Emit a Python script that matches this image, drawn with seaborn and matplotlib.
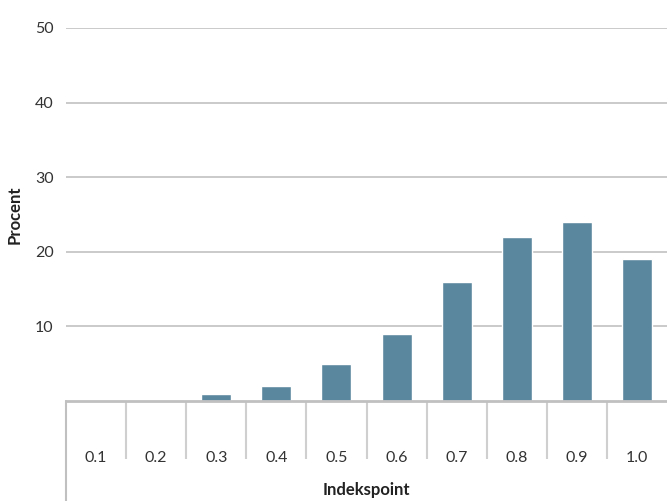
import matplotlib
matplotlib.use("Agg")
import matplotlib.pyplot as plt
import seaborn as sns
import pandas as pd
from matplotlib.lines import Line2D

categories = ["0.1", "0.2", "0.3", "0.4", "0.5", "0.6", "0.7", "0.8", "0.9", "1.0"]
values = [0.1, 0.1, 1, 2, 5, 9, 16, 22, 24, 19]
yticks = [10, 20, 30, 40, 50]

sns.set_theme(style="white")
plt.rcParams["font.family"] = ["Lato", "DejaVu Sans"]

df = pd.DataFrame({"Indekspoint": categories, "Procent": values})

fig = plt.figure(figsize=(6.67, 5.01), dpi=100)
W, H = 667, 501
ax = fig.add_axes([66 / W, (H - 401) / H, 601 / W, 373 / H])

sns.barplot(data=df, x="Indekspoint", y="Procent", color="#5b879e",
            saturation=1, width=0.5, ax=ax)

ax.set_ylim(0, 50)
ax.set_xlim(-0.5, len(categories) - 0.5)
ax.set_yticks(yticks)
ax.yaxis.grid(True, color="#c6c6c6", linewidth=1.3)
ax.set_axisbelow(True)
for s in ["top", "right", "left"]:
    ax.spines[s].set_visible(False)
ax.spines["bottom"].set_color("#c0c0c0")
ax.spines["bottom"].set_linewidth(2)

ax.tick_params(axis="y", length=0, pad=9, labelsize=11.5, labelcolor="#333333")
ax.tick_params(axis="x", which="major", bottom=False, length=0, pad=36,
               labelsize=11.5, labelcolor="#333333")
ax.set_xticks([i + 0.5 for i in range(len(categories) - 1)], minor=True)
ax.tick_params(axis="x", which="minor", bottom=True, length=42, width=1.5,
               color="#cfcfcf", direction="out")

ax.set_xlabel("Indekspoint", fontsize=12, fontweight="bold", color="#222222")
ax.set_ylabel("Procent", fontsize=12, fontweight="bold", color="#222222")
ax.xaxis.set_label_coords(0.5, -0.218)
ax.yaxis.set_label_coords(-0.072, 0.5)

ax.add_line(Line2D([0, 0], [0, -100 / 373], transform=ax.transAxes,
                   color="#c0c0c0", linewidth=1.5, clip_on=False))

fig.savefig("out.png", dpi=100)
